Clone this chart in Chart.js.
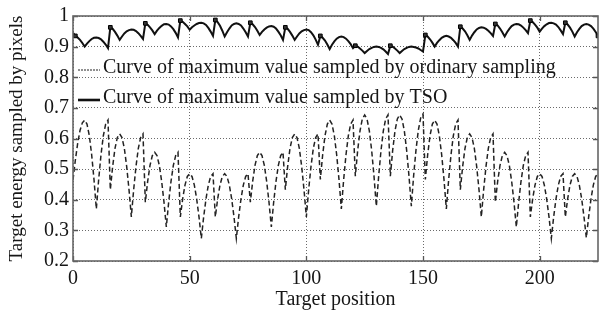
<!DOCTYPE html>
<html><head><meta charset="utf-8">
<script src="https://cdn.jsdelivr.net/npm/chart.js@4.4.0/dist/chart.umd.min.js"></script>
<style>html,body{margin:0;padding:0;background:#fff;}#wrap{width:603px;height:310px;}</style>
</head><body><div id="wrap"><canvas id="c" width="603" height="310"></canvas></div>
<script>
// Target positions 0..225
const positions = Array.from({length: 226}, (_, i) => i);

// Curve of maximum value sampled by ordinary sampling
const ordinary = [
0.465,0.529,0.584,0.626,0.651,0.66,0.647,0.609,0.547,0.466,
0.37,0.466,0.547,0.609,0.647,0.66,0.433,0.509,0.568,0.603,
0.615,0.603,0.568,0.509,0.433,0.344,0.433,0.509,0.568,0.603,
0.615,0.392,0.46,0.512,0.544,0.555,0.544,0.512,0.46,0.392,
0.311,0.392,0.46,0.512,0.544,0.555,0.344,0.403,0.448,0.476,
0.485,0.476,0.448,0.403,0.344,0.274,0.344,0.403,0.448,0.476,
0.485,0.344,0.403,0.448,0.476,0.485,0.476,0.448,0.403,0.344,
0.274,0.344,0.403,0.448,0.476,0.485,0.392,0.46,0.512,0.544,
0.555,0.544,0.512,0.46,0.392,0.311,0.392,0.46,0.512,0.544,
0.555,0.433,0.509,0.568,0.603,0.615,0.603,0.568,0.509,0.433,
0.344,0.433,0.509,0.568,0.603,0.615,0.466,0.547,0.609,0.647,
0.66,0.647,0.609,0.547,0.466,0.37,0.466,0.547,0.609,0.647,
0.66,0.477,0.561,0.625,0.664,0.677,0.664,0.625,0.561,0.477,
0.379,0.477,0.561,0.625,0.664,0.677,0.477,0.561,0.625,0.664,
0.677,0.664,0.625,0.561,0.477,0.379,0.48,0.563,0.627,0.667,
0.68,0.466,0.547,0.609,0.647,0.66,0.647,0.609,0.547,0.466,
0.37,0.466,0.547,0.609,0.647,0.66,0.433,0.509,0.568,0.603,
0.615,0.603,0.568,0.509,0.433,0.344,0.433,0.509,0.568,0.603,
0.615,0.392,0.46,0.512,0.544,0.555,0.544,0.512,0.46,0.392,
0.311,0.392,0.46,0.512,0.544,0.555,0.344,0.403,0.448,0.476,
0.485,0.476,0.448,0.403,0.344,0.274,0.344,0.403,0.448,0.476,
0.485,0.344,0.403,0.448,0.476,0.485,0.476,0.448,0.403,0.344,
0.276,0.344,0.403,0.448,0.476,0.485
];

// Curve of maximum value sampled by TSO
const tso = [
0.945,0.935,0.93,0.922,0.912,0.90,0.91,0.918,0.925,0.929,
0.93,0.928,0.924,0.916,0.907,0.895,0.963,0.958,0.948,0.936,
0.922,0.933,0.943,0.95,0.954,0.956,0.955,0.951,0.944,0.935,
0.925,0.976,0.971,0.963,0.953,0.941,0.952,0.961,0.968,0.973,
0.974,0.972,0.966,0.957,0.945,0.93,0.985,0.981,0.974,0.966,
0.955,0.963,0.969,0.974,0.977,0.978,0.976,0.971,0.961,0.949,
0.935,0.987,0.98,0.968,0.952,0.933,0.947,0.959,0.969,0.974,
0.976,0.974,0.969,0.959,0.947,0.933,0.978,0.973,0.964,0.952,
0.938,0.948,0.956,0.962,0.966,0.967,0.965,0.959,0.949,0.937,
0.922,0.963,0.958,0.948,0.936,0.922,0.933,0.943,0.95,0.954,
0.956,0.954,0.947,0.937,0.923,0.906,0.935,0.929,0.92,0.907,
0.892,0.906,0.917,0.926,0.931,0.933,0.931,0.926,0.918,0.908,
0.895,0.903,0.9,0.894,0.887,0.879,0.886,0.892,0.896,0.899,
0.90,0.899,0.896,0.891,0.884,0.876,0.903,0.90,0.894,0.887,
0.879,0.886,0.892,0.896,0.899,0.90,0.899,0.897,0.894,0.889,
0.884,0.938,0.933,0.924,0.913,0.90,0.912,0.921,0.929,0.933,
0.935,0.933,0.929,0.921,0.912,0.90,0.965,0.959,0.95,0.937,
0.922,0.936,0.947,0.956,0.961,0.963,0.962,0.958,0.952,0.944,
0.935,0.974,0.969,0.959,0.947,0.933,0.947,0.958,0.967,0.972,
0.974,0.973,0.969,0.962,0.954,0.944,0.985,0.98,0.972,0.962,
0.949,0.959,0.967,0.973,0.977,0.978,0.976,0.972,0.964,0.953,
0.941,0.978,0.972,0.962,0.949,0.933,0.947,0.958,0.967,0.972,
0.974,0.972,0.967,0.959,0.948,0.935
];

// Positions where the TSO curve carries a square marker
const tsoMarkers = [1,16,31,46,61,76,91,106,121,136,151,166,181,196,211,225];

const xTicks = [0, 50, 100, 150, 200];
const yTicks = [0.2, 0.3, 0.4, 0.5, 0.6, 0.7, 0.8, 0.9, 1];
const yTickLabels = ['0.2','0.3','0.4','0.5','0.6','0.7','0.8','0.9','1'];
const seriesNames = ['Curve of maximum value sampled by ordinary sampling', 'Curve of maximum value sampled by TSO'];
const xTitle = 'Target position';
const yTitle = 'Target energy sampled by pixels';

const FONT = 'Liberation Serif, "Times New Roman", serif';
const TXT = '#161616';

const framePlugin = {
  id: 'frame',
  afterDatasetsDraw(chart) {
    const {ctx, chartArea: a, scales} = chart;
    ctx.save();
    ctx.strokeStyle = '#555';
    ctx.lineWidth = 1.3;
    ctx.setLineDash([]);
    // inward tick marks
    ctx.beginPath();
    xTicks.forEach(v => {
      const px = Math.round(scales.x.getPixelForValue(v)) + 0.5;
      ctx.moveTo(px, a.bottom); ctx.lineTo(px, a.bottom - 5);
      ctx.moveTo(px, a.top); ctx.lineTo(px, a.top + 5);
    });
    yTicks.forEach(v => {
      const py = Math.round(scales.y.getPixelForValue(v)) + 0.5;
      ctx.moveTo(a.left, py); ctx.lineTo(a.left + 5, py);
      ctx.moveTo(a.right, py); ctx.lineTo(a.right - 5, py);
    });
    ctx.stroke();
    ctx.lineWidth = 1.6;
    ctx.strokeStyle = '#666';
    ctx.strokeRect(a.left, a.top, a.right - a.left, a.bottom - a.top);
    // legend inside the plot area
    const lx = a.left + 5, tx = a.left + 30;
    const rows = [a.top + 52, a.top + 82];
    ctx.font = '20px ' + FONT;
    ctx.fillStyle = TXT;
    ctx.textBaseline = 'middle';
    ctx.textAlign = 'left';
    ctx.strokeStyle = '#222';
    ctx.lineWidth = 1.2;
    ctx.setLineDash([2, 1]);
    ctx.beginPath(); ctx.moveTo(lx, rows[0] + 2); ctx.lineTo(lx + 22, rows[0] + 2); ctx.stroke();
    ctx.setLineDash([]);
    ctx.lineWidth = 2.6;
    ctx.strokeStyle = '#111';
    ctx.beginPath(); ctx.moveTo(lx, rows[1] + 2); ctx.lineTo(lx + 22, rows[1] + 2); ctx.stroke();
    ctx.fillText(seriesNames[0], tx, rows[0]);
    ctx.fillText(seriesNames[1], tx, rows[1]);
    ctx.restore();
  }
};

const ctx = document.getElementById('c').getContext('2d');
new Chart(ctx, {
  type: 'line',
  data: {
    datasets: [
      {
        label: seriesNames[0],
        data: positions.map((x, i) => ({x: x, y: ordinary[i]})),
        borderColor: '#222',
        borderWidth: 1.5,
        borderDash: [5, 3],
        pointRadius: 0,
        tension: 0,
        fill: false
      },
      {
        label: seriesNames[1],
        data: positions.map((x, i) => ({x: x, y: tso[i]})),
        borderColor: '#111',
        borderWidth: 2,
        pointRadius: c => tsoMarkers.includes(positions[c.dataIndex]) ? 2.6 : 0,
        pointStyle: 'rect',
        pointBackgroundColor: '#333',
        pointBorderColor: '#000',
        pointBorderWidth: 1,
        tension: 0,
        fill: false
      }
    ]
  },
  options: {
    responsive: false,
    animation: false,
    devicePixelRatio: 1,
    layout: {padding: {top: 16, right: 5, left: 0, bottom: 0}},
    plugins: {legend: {display: false}, tooltip: {enabled: false}},
    scales: {
      x: {
        type: 'linear', min: 0, max: 225,
        afterBuildTicks: s => { s.ticks = xTicks.map(v => ({value: v})); },
        afterFit: s => { s.height = 49; },
        ticks: {font: {family: FONT, size: 20}, color: TXT, padding: 6, maxRotation: 0, autoSkip: false, callback: v => String(v)},
        grid: {color: '#6a6a6a', lineWidth: 1, drawTicks: false},
        border: {display: false, dash: [1, 2]},
        title: {display: true, text: xTitle, font: {family: FONT, size: 20}, color: TXT, padding: {top: 0, bottom: -2}}
      },
      y: {
        type: 'linear', min: 0.2, max: 1,
        afterBuildTicks: s => { s.ticks = yTicks.map(v => ({value: v})); },
        afterFit: s => { s.width = 73; },
        ticks: {font: {family: FONT, size: 20}, color: TXT, padding: 4, autoSkip: false,
          callback: (v) => { const i = yTicks.findIndex(t => Math.abs(t - v) < 1e-6); return i >= 0 ? yTickLabels[i] : ''; }},
        grid: {color: '#6a6a6a', lineWidth: 1, drawTicks: false},
        border: {display: false, dash: [1, 2]},
        title: {display: true, text: yTitle, font: {family: FONT, size: 19}, color: TXT, padding: {top: 6, bottom: 0}}
      }
    }
  },
  plugins: [framePlugin]
});
</script>
</body></html>
